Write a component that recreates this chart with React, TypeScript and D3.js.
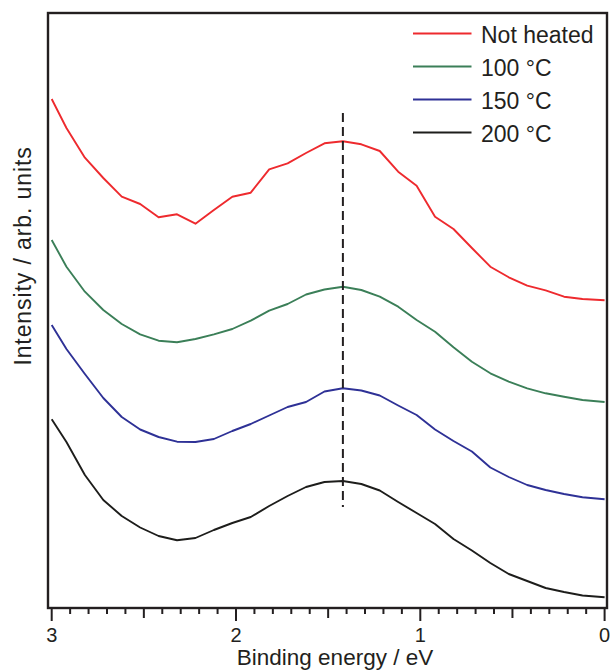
import React from "react";
import * as d3 from "d3";

const energy = [3.0, 2.92, 2.82, 2.72, 2.62, 2.52, 2.42, 2.32, 2.22, 2.12, 2.02, 1.92, 1.82, 1.72, 1.62, 1.52, 1.42, 1.32, 1.22, 1.12, 1.02, 0.92, 0.82, 0.72, 0.62, 0.52, 0.42, 0.32, 0.22, 0.12, 0.0];
const notHeated = [509, 480, 450.3, 430, 411.3, 404, 390.7, 393.7, 384.3, 398, 411.3, 415.3, 438.7, 444.7, 455, 464.7, 466.7, 463.7, 457, 436.3, 422.3, 391.3, 379, 360, 341.3, 330.7, 322.3, 317.7, 311.3, 309, 307.7];
const t100 = [368, 341.3, 316.3, 298, 284, 273.7, 267.3, 265.7, 269, 273.7, 279, 287.3, 297.3, 304, 313.5, 318.5, 321.3, 318, 311.3, 301.3, 288, 276.3, 260.7, 246.3, 234.7, 226.3, 219.7, 214.7, 211.3, 208, 206];
const t150 = [283, 259, 234, 210, 191, 178.5, 171, 166.3, 166, 169, 177, 184, 192.5, 201, 206, 216.5, 219.7, 217.5, 212.5, 202.5, 193, 178.5, 167, 156.5, 140.5, 131, 123, 118, 114, 110.7, 108.7];
const t200 = [188.7, 166, 133, 108, 92, 80.5, 72, 67.7, 70, 78, 85, 91, 102, 112, 121, 126, 127, 124, 117.5, 106, 95, 84, 69, 57.5, 45, 34, 27, 20, 16, 12.5, 10.7];

const seriesNames = ["Not heated", "100 \u00B0C", "150 \u00B0C", "200 \u00B0C"];
const seriesValues = [notHeated, t100, t150, t200];
const seriesColors = ["#ee2a2e", "#3b7f58", "#2e3196", "#1d1d1b"];

const xTickMajor = [3, 2, 1, 0];
const peakEnergy = 1.42;
const peakLineRange = [495, 101];

const W = 613;
const H = 671;
const FONT = "'Liberation Sans', Arial, sans-serif";

export default function App() {
  const x = d3.scaleLinear().domain([3, 0]).range([51.7, 604.6]);
  const y = d3.scaleLinear().domain([0, 595]).range([608, 13]);
  const line = d3
    .line<number>()
    .x((_, i) => x(energy[i]))
    .y((d) => y(d));

  const minorTicks = d3.range(0, 31).map((i) => i / 10);
  const frameL = 48, frameR = 607, frameT = 13, frameB = 608;
  const ink = "#231f20";

  return (
    <svg width={W} height={H} style={{ position: "absolute", left: 0, top: 0 }}>
      <rect x={0} y={0} width={W} height={H} fill="#fff" />
      <rect x={frameL} y={frameT} width={frameR - frameL} height={frameB - frameT} fill="none" stroke={ink} strokeWidth={2.4} />
      {minorTicks.map((t) => {
        const r = Math.round(t * 10);
        const len = r % 10 === 0 ? 13 : r % 5 === 0 ? 10 : 6;
        return <line key={r} x1={x(t)} x2={x(t)} y1={frameB} y2={frameB + len} stroke={ink} strokeWidth={2} />;
      })}
      {xTickMajor.map((t) => (
        <text key={t} x={x(t)} y={642} textAnchor="middle" fontFamily={FONT} fontSize={20} fill={ink}>
          {t}
        </text>
      ))}
      <text x={335} y={665} textAnchor="middle" fontFamily={FONT} fontSize={22.5} fill={ink}>
        Binding energy / eV
      </text>
      <text transform={`translate(31,256) rotate(-90)`} textAnchor="middle" fontFamily={FONT} fontSize={23} letterSpacing={0.9} fill={ink}>
        Intensity / arb. units
      </text>
      {seriesValues.map((vals, i) => (
        <path key={i} d={line(vals) || ""} fill="none" stroke={seriesColors[i]} strokeWidth={1.9} strokeLinejoin="round" />
      ))}
      <line x1={x(peakEnergy)} x2={x(peakEnergy)} y1={y(peakLineRange[0])} y2={y(peakLineRange[1])} stroke={ink} strokeWidth={2} strokeDasharray="9,5" />
      {seriesNames.map((n, i) => (
        <g key={n} transform={`translate(0,${33.5 + i * 33})`}>
          <line x1={413} x2={471.5} y1={0} y2={0} stroke={seriesColors[i]} strokeWidth={1.9} />
          <text x={481} y={9} fontFamily={FONT} fontSize={23} fill={ink}>
            {n}
          </text>
        </g>
      ))}
    </svg>
  );
}
